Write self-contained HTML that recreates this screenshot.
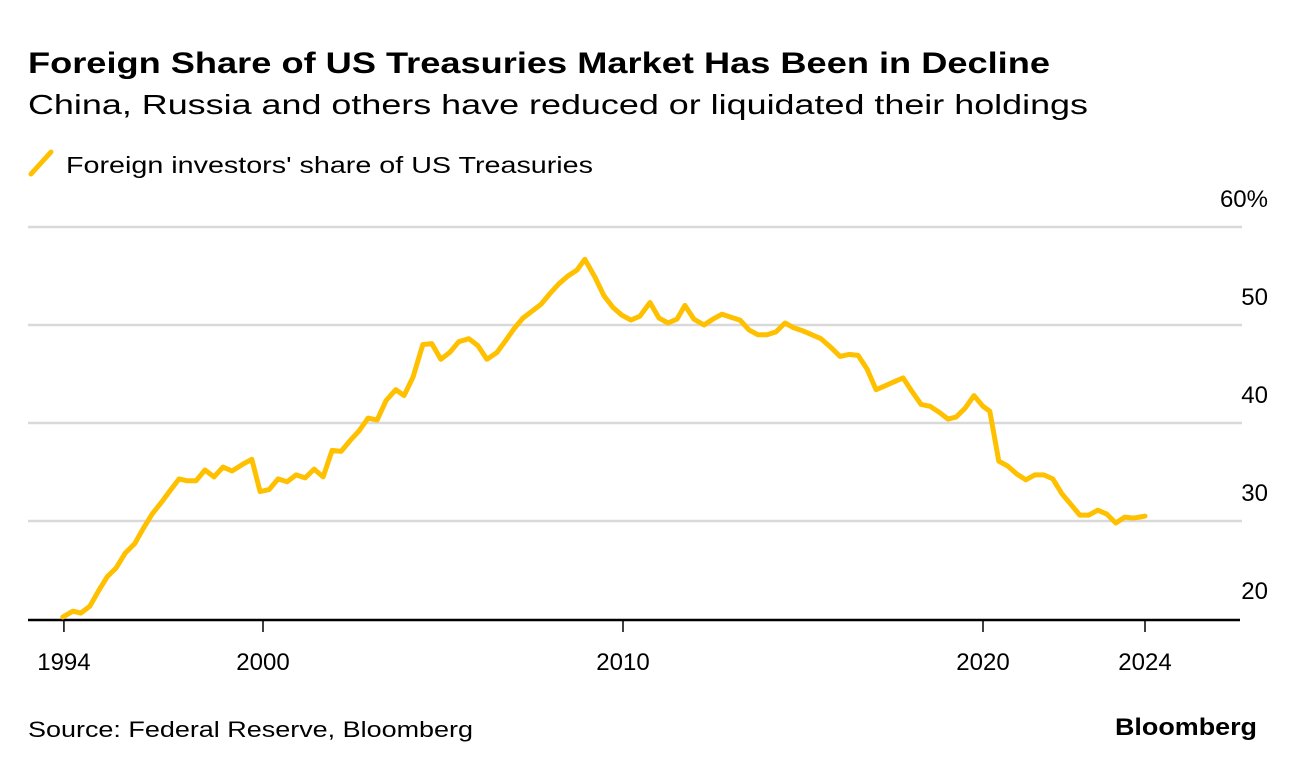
<!DOCTYPE html>
<html><head><meta charset="utf-8"><style>
html,body{margin:0;padding:0;background:#fff;}
svg{display:block;font-family:"Liberation Sans",sans-serif;}
</style></head><body>
<svg id="chart" width="1296" height="770" viewBox="0 0 1296 770" xmlns="http://www.w3.org/2000/svg">
<text x="28" y="73" font-size="30" font-weight="bold" fill="#000" textLength="1022" lengthAdjust="spacingAndGlyphs">Foreign Share of US Treasuries Market Has Been in Decline</text>
<text x="28" y="114" font-size="28" fill="#000" textLength="1060" lengthAdjust="spacingAndGlyphs">China, Russia and others have reduced or liquidated their holdings</text>
<g>
<line x1="31" y1="174" x2="51" y2="152" stroke="#ffc000" stroke-width="5" stroke-linecap="round"/>
<text x="66" y="173" font-size="23" fill="#000" textLength="527" lengthAdjust="spacingAndGlyphs">Foreign investors' share of US Treasuries</text>
</g>
<g id="grid"></g>
<g id="ylabels"></g>
<g id="xaxis"></g>
<path id="line" fill="none" stroke="#ffc000" stroke-width="5" stroke-linejoin="round" stroke-linecap="round"/>
<text x="28" y="737" font-size="22" fill="#000" textLength="445" lengthAdjust="spacingAndGlyphs">Source: Federal Reserve, Bloomberg</text>
<text x="1257" y="735" font-size="24" font-weight="bold" fill="#000" text-anchor="end" textLength="142" lengthAdjust="spacingAndGlyphs">Bloomberg</text>
</svg>
<script>
const years = [1994.44,1994.72,1994.94,1995.19,1995.42,1995.67,1995.92,1996.17,1996.44,1996.67,1996.92,1997.22,1997.42,1997.67,1997.89,1998.14,1998.39,1998.64,1998.89,1999.14,1999.44,1999.69,1999.92,2000.17,2000.42,2000.67,2000.92,2001.17,2001.42,2001.67,2001.92,2002.17,2002.42,2002.67,2002.92,2003.17,2003.42,2003.69,2003.92,2004.17,2004.44,2004.69,2004.94,2005.19,2005.44,2005.72,2005.97,2006.22,2006.5,2006.72,2006.97,2007.22,2007.47,2007.72,2007.97,2008.22,2008.47,2008.72,2008.94,2009.22,2009.47,2009.72,2009.97,2010.22,2010.47,2010.75,2011.0,2011.25,2011.5,2011.72,2011.97,2012.25,2012.5,2012.75,2013.0,2013.25,2013.5,2013.75,2014.0,2014.25,2014.5,2014.75,2015.0,2015.25,2015.5,2015.75,2016.03,2016.28,2016.53,2016.78,2017.03,2017.28,2017.53,2017.78,2018.03,2018.28,2018.53,2018.78,2019.03,2019.25,2019.5,2019.75,2020.0,2020.19,2020.44,2020.69,2020.94,2021.19,2021.44,2021.69,2021.94,2022.19,2022.44,2022.69,2022.94,2023.19,2023.44,2023.69,2023.94,2024.19,2024.5];
const shares = [20.2,20.8,20.6,21.3,22.8,24.3,25.2,26.7,27.7,29.2,30.7,32.1,33.1,34.3,34.1,34.1,35.2,34.5,35.5,35.1,35.8,36.3,33.0,33.2,34.3,34.0,34.7,34.4,35.3,34.5,37.2,37.1,38.2,39.2,40.5,40.3,42.3,43.4,42.8,44.7,48.0,48.1,46.5,47.2,48.3,48.6,47.9,46.5,47.2,48.3,49.6,50.7,51.4,52.1,53.2,54.2,55.0,55.6,56.7,54.9,53.0,51.8,51.0,50.5,50.9,52.3,50.7,50.2,50.6,52.0,50.6,50.0,50.6,51.1,50.8,50.5,49.5,49.0,49.0,49.3,50.2,49.7,49.4,49.0,48.6,47.8,46.8,47.0,46.9,45.5,43.4,43.8,44.2,44.6,43.2,41.9,41.7,41.1,40.4,40.6,41.5,42.8,41.7,41.2,36.1,35.6,34.8,34.2,34.7,34.7,34.3,32.8,31.7,30.6,30.6,31.1,30.7,29.8,30.4,30.3,30.5];
const yTicks = [20,30,40,50,60];
const yTickLabels = ["20","30","40","50","60%"];
const xTicks = [1994.47,2000,2010,2020,2024.5];
const xTickLabels = ["1994","2000","2010","2020","2024"];

const NS = "http://www.w3.org/2000/svg";
function xScale(yr){ return 263 + (yr - 2000) * 36; }
function yScale(v){ return 619 - (v - 20) * 9.8; }
function mk(tag, attrs, parent){ const e = document.createElementNS(NS, tag); for (const k in attrs) e.setAttribute(k, attrs[k]); parent.appendChild(e); return e; }

const grid = document.getElementById('grid');
const yl = document.getElementById('ylabels');
yTicks.forEach((t, i) => {
  const y = yScale(t);
  if (t !== 20) {
    const g = mk('line', {x1: 28, x2: 1242, y1: y, y2: y, stroke: '#d9d9d9', 'stroke-width': 2.5}, grid);
    
    
  }
  const tx = mk('text', {x: 1268, y: y - 20, 'font-size': 24, 'text-anchor': 'end', fill: '#000'}, yl);
  
  
  tx.textContent = yTickLabels[i];
});

const xa = document.getElementById('xaxis');
const base = mk('line', {x1: 28, x2: 1240, y1: 620, y2: 620, stroke: '#000', 'stroke-width': 2.5}, xa);


xTicks.forEach((t, i) => {
  const x = xScale(t);
  const tk = mk('line', {x1: x, x2: x, y1: 620, y2: 632, stroke: '#000', 'stroke-width': 1.5}, xa);
  
  
  const tx = mk('text', {x: x, y: 670, 'font-size': 24, 'text-anchor': 'middle', fill: '#000'}, xa);
  
  
  tx.textContent = xTickLabels[i];
});

let d = '';
years.forEach((yr, i) => { d += (i ? 'L' : 'M') + xScale(yr).toFixed(1) + ',' + yScale(shares[i]).toFixed(1); });
document.getElementById('line').setAttribute('d', d);
</script>
</body></html>
